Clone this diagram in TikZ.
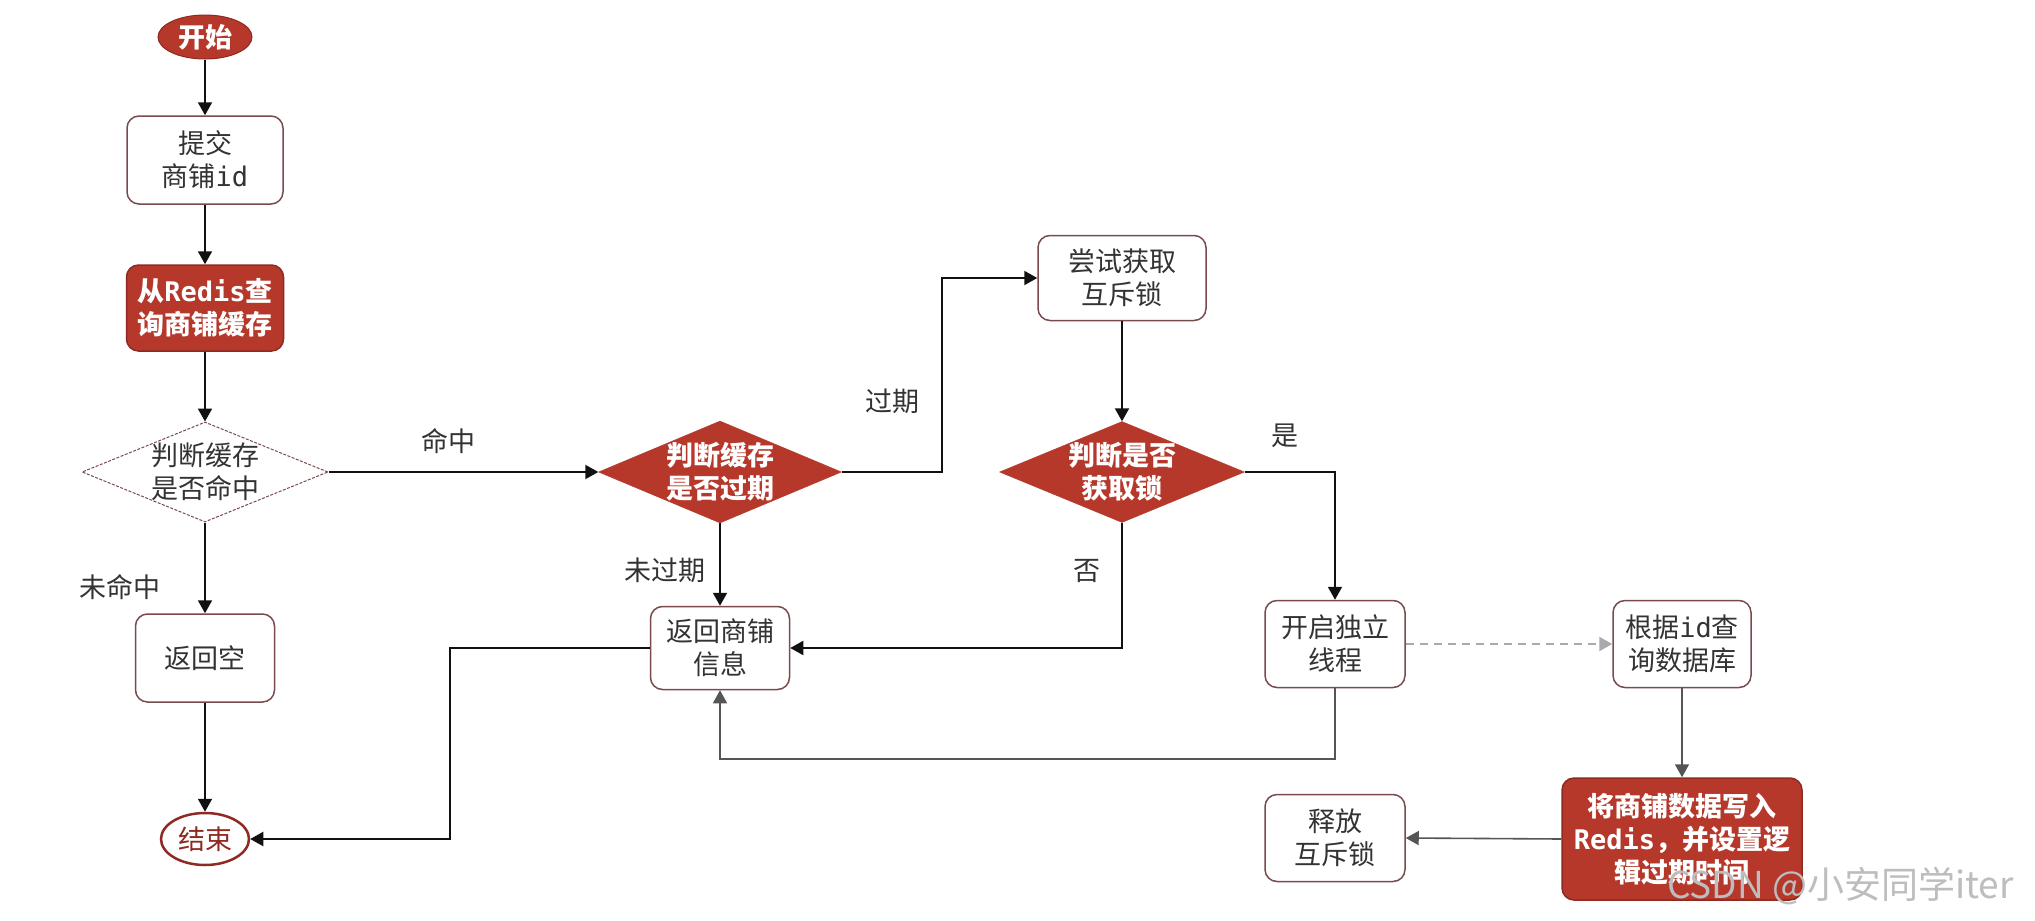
\documentclass[tikz,border=0pt]{standalone}
\usepackage{fontspec}
\setmainfont{Noto Sans CJK SC}
\newfontfamily\monof{DejaVu Sans Mono}
\usetikzlibrary{arrows.meta,shapes.geometric,calc}
\definecolor{myred}{HTML}{B5382B}
\definecolor{redborder}{HTML}{8E2A22}
\definecolor{boxborder}{HTML}{7A4B4E}
\definecolor{txt}{HTML}{333333}
\definecolor{conn}{HTML}{111111}
\definecolor{gconn}{HTML}{555555}
\definecolor{dconn}{HTML}{AAAAAA}
\definecolor{wmark}{HTML}{BDBDBD}
\tikzset{
  base/.style={font=\fontsize{27}{33}\selectfont, align=center, inner sep=0pt},
  bbase/.style={font=\fontsize{27}{33}\selectfont\bfseries, align=center, inner sep=0pt},
  wbox/.style={base, draw=boxborder, line width=1.5pt, rounded corners=12pt, fill=white, text=txt},
  rbox/.style={bbase, draw=redborder, line width=1.5pt, rounded corners=12pt, fill=myred, text=white},
  rdia/.style={bbase, diamond, aspect=2.4, inner sep=-6pt, fill=myred, draw=myred, text=white},
  wdia/.style={base, diamond, aspect=2.4, inner sep=-6pt, fill=white, draw=boxborder, line width=1pt, dash pattern=on 3pt off 1.5pt, text=txt},
  startnode/.style={bbase, ellipse, fill=myred, draw=redborder, line width=1pt, text=white},
  endnode/.style={base, ellipse, fill=white, draw=redborder, line width=2.5pt, text=redborder},
  arr/.style={-{Triangle[length=13pt,width=14pt]}, line width=2pt, draw=conn},
  garr/.style={-{Triangle[length=13pt,width=14pt]}, line width=1.6pt, draw=gconn},
  darr/.style={-{Triangle[length=13pt,width=14pt]}, line width=2.2pt, draw=dconn, dash pattern=on 8pt off 6pt},
  lbl/.style={font=\fontsize{27}{33}\selectfont, text=txt, inner sep=0pt}
}
\begin{document}
\begin{tikzpicture}[x=1pt,y=-1pt]
\path[use as bounding box, fill=white] (0,0) rectangle (2035,921);

% nodes
\node[startnode, minimum width=94pt, minimum height=44pt] (start) at (205,37) {开始};
\node[wbox, minimum width=156pt, minimum height=88pt] (submit) at (205,160) {提交\\商铺{\monof id}};
\node[rbox, minimum width=157pt, minimum height=86pt] (redis) at (205,308) {从{\monof\bfseries Redis}查\\询商铺缓存};
\node[wdia, minimum width=246pt, minimum height=100pt] (hit) at (205,472) {判断缓存\\是否命中};
\node[wbox, minimum width=139pt, minimum height=88pt] (empty) at (205,658) {返回空};
\node[endnode, minimum width=88pt, minimum height=52pt] (end) at (205,839) {结束};

\node[rdia, minimum width=243pt, minimum height=102pt] (exp) at (720,472) {判断缓存\\是否过期};
\node[wbox, minimum width=139pt, minimum height=83pt] (ret) at (720,648) {返回商铺\\信息};

\node[wbox, minimum width=168pt, minimum height=85pt] (lock) at (1122,278) {尝试获取\\互斥锁};
\node[rdia, minimum width=245pt, minimum height=101pt] (got) at (1122,472) {判断是否\\获取锁};

\node[wbox, minimum width=140pt, minimum height=87pt] (thread) at (1335,644) {开启独立\\线程};
\node[wbox, minimum width=138pt, minimum height=87pt] (query) at (1682,644) {根据{\monof id}查\\询数据库};
\node[rbox, minimum width=240pt, minimum height=122pt] (write) at (1682,839) {将商铺数据写入\\{\monof\bfseries Redis}，并设置逻\\辑过期时间};
\node[wbox, minimum width=140pt, minimum height=87pt] (release) at (1335,838) {释放\\互斥锁};

% labels
\node[lbl] (lmiss) at (120,587) {未命中};
\node[lbl] (lhit) at (448,441) {命中};
\node[lbl] (lexp) at (892,401) {过期};
\node[lbl] (lnexp) at (665,570) {未过期};
\node[lbl] (lno) at (1087,571) {否};
\node[lbl] (lyes) at (1285,436) {是};

% connectors
\draw[arr] (start) -- (submit);
\draw[arr] (submit) -- (redis);
\draw[arr] (redis) -- (hit);
\draw[arr] (hit) -- (empty);
\draw[arr] (empty) -- (end);
\draw[arr] (hit.east) -- (exp.west);
\draw[arr] (exp.east) -- ++(100.5,0) |- (lock.west);
\draw[arr] (exp.south) -- (ret.north);
\draw[arr] (lock) -- (got);
\draw[arr] (got.south) |- (ret.east);
\draw[arr] (got.east) -| (thread.north);
\draw[arr] (ret.west) -- ++(-200,0) |- (end.east);
\draw[garr] (thread.south) -- ++(0,70.5) -| (ret.south);
\draw[darr] (thread.east) -- (query.west);
\draw[garr] (query.south) -- (write.north);
\draw[garr] (write.west) -- (release.east);

% watermark
\node[anchor=west, text=wmark, font=\fontsize{37}{40}\selectfont, inner sep=0pt] (wm) at (1667,886) {CSDN @小安同学iter};
\end{tikzpicture}
\end{document}
